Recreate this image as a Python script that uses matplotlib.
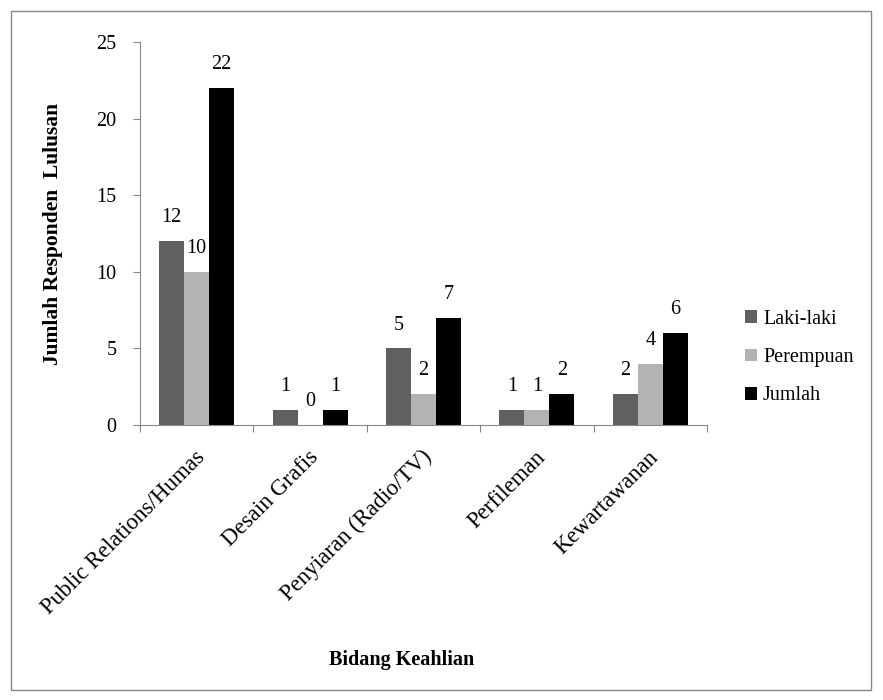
import numpy as np
import matplotlib.pyplot as plt
from matplotlib.patches import Rectangle

categories = ["Public Relations/Humas", "Desain Grafis", "Penyiaran (Radio/TV)",
              "Perfileman", "Kewartawanan"]
laki = [12, 1, 5, 1, 2]
perempuan = [10, 0, 2, 1, 4]
jumlah = [22, 1, 7, 2, 6]

series = [("Laki-laki", laki, "#606060"),
          ("Perempuan", perempuan, "#b3b3b3"),
          ("Jumlah", jumlah, "#000000")]

plt.rcParams['font.family'] = ['Liberation Serif', 'DejaVu Serif']

fig = plt.figure(figsize=(8.83, 7), dpi=100)
ax = fig.add_axes([0.1586, 0.3929, 0.642, 0.547])

x = np.arange(len(categories))
w = 0.22
for i, (name, vals, col) in enumerate(series):
    pos = x + (i - 1) * w
    bars = ax.bar(pos, vals, w, color=col, label=name)
    for b, v in zip(bars, vals):
        ax.annotate(str(v), (b.get_x() + b.get_width() / 2, v),
                    xytext=(0, 10), textcoords="offset points",
                    ha="center", va="bottom", fontsize=14.5)

ax.set_xlim(-0.5, len(categories) - 0.5)
ax.set_ylim(0, 25)
ax.set_yticks(range(0, 26, 5))
ax.tick_params(axis="y", labelsize=14.5, color="#888888", length=5, pad=12)
ax.set_xticks(np.arange(-0.5, len(categories), 1.0))
ax.set_xticklabels([])
ax.tick_params(axis="x", color="#888888", length=5)
for i, c in enumerate(categories):
    ax.text(i - 0.02, -1.4, c, rotation=45, ha="right", va="top",
            fontsize=16.5, rotation_mode="anchor")

for s in ["top", "right"]:
    ax.spines[s].set_visible(False)
for s in ["left", "bottom"]:
    ax.spines[s].set_color("#888888")

ax.set_ylabel("Jumlah Responden  Lulusan", fontsize=15.5, fontweight="bold", labelpad=24)
fig.text(0.455, 0.057, "Bidang Keahlian", fontsize=14.5, fontweight="bold",
         ha="center", va="center")

ax.legend(loc="center left", bbox_to_anchor=(1.035, 0.176), frameon=False,
          fontsize=14.5, handlelength=0.6, handleheight=0.6, handletextpad=0.3,
          labelspacing=0.95)

fig.patches.append(Rectangle((0.0125, 0.0143), 0.974, 0.97, transform=fig.transFigure,
                             fill=False, edgecolor="#888888", linewidth=1))

fig.savefig("out.png", dpi=100)
